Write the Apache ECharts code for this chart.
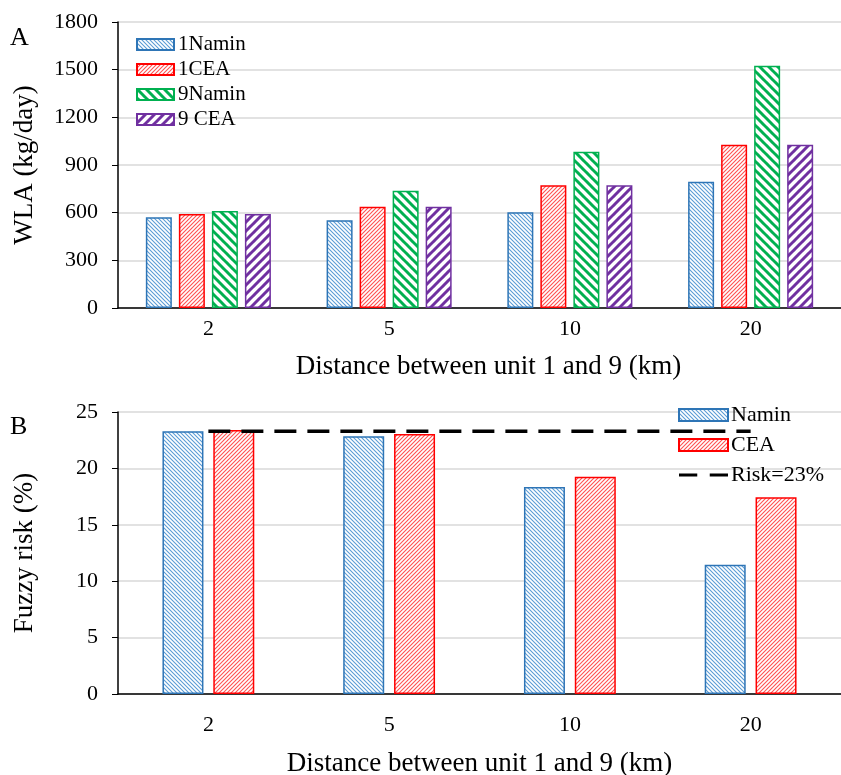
<!DOCTYPE html>
<html>
<head>
<meta charset="utf-8">
<script src="https://cdn.jsdelivr.net/npm/echarts@6/dist/echarts.min.js"></script>
<style>
    html, body {margin: 0; padding: 0; background: #fff;}
    #main {width: 841px; height: 775px;}
</style>
</head>
<body>
<div id="main"></div>
<script>
// data
var distances = ['2', '5', '10', '20'];
var namin1 = [571, 552, 602, 795];
var cea1 = [592, 637, 772, 1028];
var namin9 = [610, 738, 984, 1525];
var cea9 = [592, 637, 772, 1028];
var riskNamin = [23.3, 22.85, 18.35, 11.45];
var riskCea = [23.4, 23.05, 19.25, 17.45];
var riskLimit = [23.3, 23.3, 23.3, 23.3];

var FONT = "'Liberation Serif', 'Times New Roman', serif";

//hatch pattern: dir 1 = "\", dir -1 = "/"
function hatch(color, p, lw, dir) {
    var c = document.createElement('canvas');
    c.width = p;
    c.height = p;
    var ctx = c.getContext('2d');
    ctx.fillStyle = '#fff';
    ctx.fillRect(0, 0, p, p);
    ctx.strokeStyle = color;
    ctx.lineWidth = lw;
    for (var k = -1; k <= 1; k++) {
        ctx.beginPath();
        if (dir > 0) {
            ctx.moveTo(k * p - 1, -1);
            ctx.lineTo(k * p + p + 1, p + 1);
        } else {
            ctx.moveTo(k * p - 1, p + 1);
            ctx.lineTo(k * p + p + 1, -1);
        }
        ctx.stroke();
    }
    return {image: c, repeat: 'repeat'};
}

var blueFill = hatch('#5b9bd5', 4, 1.1, 1);
var redFill = hatch('#ff5050', 4, 1.1, -1);
var greenFill = hatch('#00b050', 9, 3, 1);
var purpleFill = hatch('#7030a0', 9, 3, -1);

function yAxisCfg(idx, name, max, interval, gap) {
    return {
        type: 'value',
        gridIndex: idx,
        min: 0,
        max: max,
        interval: interval,
        name: name,
        nameLocation: 'middle',
        nameGap: gap,
        nameTextStyle: {fontFamily: FONT, fontSize: 27, color: '#000'},
        axisLine: {show: true, lineStyle: {color: '#000', width: 1.5}},
        axisTick: {show: true, length: 6, lineStyle: {color: '#000'}},
        axisLabel: {
            fontFamily: FONT, fontSize: 22, color: '#000', margin: 20,
            formatter: function (v) { return String(v); }
        },
        splitLine: {show: true, lineStyle: {color: '#d9d9d9', width: 1.5}}
    };
}

function xAxisCfg(idx, labelMargin, nameGap, shift) {
    return {
        type: 'category',
        gridIndex: idx,
        data: distances,
        name: 'Distance between unit 1 and 9 (km)',
        nameLocation: 'middle',
        nameGap: nameGap,
        nameTextStyle: {fontFamily: FONT, fontSize: 27, color: '#000', padding: [0, 0, 0, shift]},
        axisLine: {lineStyle: {color: '#000', width: 1.5}},
        axisTick: {show: false},
        axisLabel: {fontFamily: FONT, fontSize: 22, color: '#000', margin: labelMargin}
    };
}

function barSeries(name, data, fill, border, idx, width, gap) {
    return {
        name: name,
        type: 'bar',
        xAxisIndex: idx,
        yAxisIndex: idx,
        data: data,
        barWidth: width,
        barGap: gap,
        itemStyle: {color: fill, borderColor: border, borderWidth: 1.5},
        emphasis: {disabled: true}
    };
}

var chart = echarts.init(document.getElementById('main'));
var option = {
    animation: false,
    backgroundColor: '#fff',
    title: [
        {text: 'A', left: 10, top: 25, padding: 0, textStyle: {fontFamily: FONT, fontSize: 26, fontWeight: 'normal', color: '#000'}},
        {text: 'B', left: 10, top: 414, padding: 0, textStyle: {fontFamily: FONT, fontSize: 26, fontWeight: 'normal', color: '#000'}}
    ],
    grid: [
        {left: 118, top: 22, right: 0, bottom: 467, outerBoundsMode: 'none'},
        {left: 118, top: 412, right: 0, bottom: 81, outerBoundsMode: 'none'}
    ],
    legend: [
        {
            data: ['1Namin', '1CEA', '9Namin', '9 CEA'],
            orient: 'vertical',
            left: 136,
            top: 34,
            padding: 0,
            icon: 'rect',
            itemWidth: 37,
            itemHeight: 11,
            itemGap: 4,
            textStyle: {fontFamily: FONT, fontSize: 21, color: '#000', padding: [0, 0, 0, -1]}
        },
        {
            data: [
                {name: 'Namin', icon: 'rect'},
                {name: 'CEA', icon: 'rect'},
                {name: 'Risk=23%', icon: 'path://M0,0H19V3H0Z M32,0H51V3H32Z'}
            ],
            orient: 'vertical',
            left: 678,
            top: 404,
            padding: 0,
            itemWidth: 49,
            itemHeight: 12,
            itemGap: 8,
            textStyle: {fontFamily: FONT, fontSize: 22, color: '#000', padding: [0, 0, 0, -2]}
        }
    ],
    xAxis: [
        xAxisCfg(0, 10, 45, 18),
        xAxisCfg(1, 20, 56, 0)
    ],
    yAxis: [
        yAxisCfg(0, 'WLA (kg/day)', 1800, 300, 80),
        yAxisCfg(1, 'Fuzzy risk (%)', 25, 5, 80)
    ],
    series: [
        barSeries('1Namin', namin1, blueFill, '#2e75b6', 0, 26, '27%'),
        barSeries('1CEA', cea1, redFill, '#ff0000', 0, 26, '27%'),
        barSeries('9Namin', namin9, greenFill, '#00b050', 0, 26, '27%'),
        barSeries('9 CEA', cea9, purpleFill, '#7030a0', 0, 26, '27%'),
        barSeries('Namin', riskNamin, blueFill, '#2e75b6', 1, 41, '24%'),
        barSeries('CEA', riskCea, redFill, '#ff0000', 1, 41, '24%'),
        {
            name: 'Risk=23%',
            type: 'line',
            xAxisIndex: 1,
            yAxisIndex: 1,
            data: riskLimit,
            symbol: 'none',
            lineStyle: {color: '#000', width: 3.5, type: [22, 11]},
            itemStyle: {color: '#000'},
            emphasis: {disabled: true},
            z: 5
        }
    ]
};
chart.setOption(option);
</script>
</body>
</html>
